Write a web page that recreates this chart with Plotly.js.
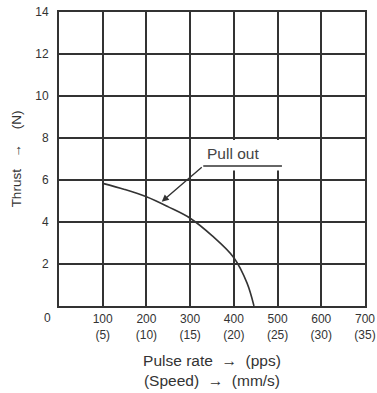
<!DOCTYPE html>
<html>
<head>
<meta charset="utf-8">
<script src="https://cdn.plot.ly/plotly-3.0.1.min.js"></script>
<style>
html,body{margin:0;padding:0;background:#fff;}
#chart{width:377px;height:393px;}
</style>
</head>
<body>
<div id="chart"></div>
<script>
// Pull-out curve: pulse rate (pps) vs thrust (N)
const pulseRate = [100, 150, 200, 250, 300, 350, 400, 430, 446];
const thrust    = [5.84, 5.55, 5.2, 4.72, 4.18, 3.35, 2.3, 1.1, 0];

const xTickVals  = [100, 200, 300, 400, 500, 600, 700];
const xTickPps   = ['100', '200', '300', '400', '500', '600', '700'];
const xTickSpeed = ['(5)', '(10)', '(15)', '(20)', '(25)', '(30)', '(35)'];
const yTickVals  = [2, 4, 6, 8, 10, 12, 14];

const curveLabel = 'Pull out';
const labelPoint = [235, 4.97];     // where the arrow touches the curve
const labelElbow = [330, 6.67];
const labelEnd   = [510, 6.67];

const ink = '#333333';
const font = 'Liberation Sans, Arial, sans-serif';
const sp = n => '\u00a0'.repeat(n);

const trace = {
  x: pulseRate, y: thrust, mode: 'lines', type: 'scatter',
  line: {color: ink, width: 1.6, shape: 'spline', smoothing: 1},
  hoverinfo: 'skip', showlegend: false
};

const layout = {
  width: 377, height: 393,
  margin: {l: 59, r: 12, t: 12, b: 87},
  paper_bgcolor: '#fff', plot_bgcolor: '#fff',
  font: {family: font, color: '#333', size: 12},
  xaxis: {
    range: [0, 700], tickvals: xTickVals,
    ticktext: xTickVals.map((v, i) => xTickPps[i] + '<br>' + xTickSpeed[i]),
    showgrid: true, gridcolor: ink, gridwidth: 2,
    showline: true, linecolor: ink, linewidth: 2, mirror: true,
    zeroline: false, ticks: '', ticklabelstandoff: 1,
    tickfont: {size: 12, color: '#333'},
    title: {text: 'Pulse rate ' + sp(1) + '\u2192' + sp(2) + '(pps)<br>(Speed) ' + sp(1) + '\u2192' + sp(2) + '(mm/s)',
            font: {size: 15.5, color: '#333'}, standoff: 14}
  },
  yaxis: {
    range: [0, 14], tickvals: yTickVals,
    showgrid: true, gridcolor: ink, gridwidth: 2,
    showline: true, linecolor: ink, linewidth: 2, mirror: true,
    zeroline: false, ticks: '', ticklabelstandoff: 6,
    tickfont: {size: 12, color: '#333'},
    title: {text: 'Thrust' + sp(3) + '\u2192' + sp(4) + '(N)', font: {size: 13.5, color: '#333'}, standoff: 11}
  },
  shapes: [
    {type: 'rect', layer: 'between', xref: 'x', yref: 'y',
     x0: 372, x1: 528, y0: 6.45, y1: 7.9, fillcolor: '#fff', line: {width: 0}},
    {type: 'line', xref: 'x', yref: 'y',
     x0: labelElbow[0], y0: labelElbow[1], x1: labelEnd[0], y1: labelEnd[1],
     line: {color: ink, width: 1.4}}
  ],
  annotations: [
    {x: labelPoint[0], y: labelPoint[1], ax: labelElbow[0], ay: labelElbow[1],
     xref: 'x', yref: 'y', axref: 'x', ayref: 'y', text: '', showarrow: true,
     arrowhead: 2, arrowsize: 1, arrowwidth: 1.4, arrowcolor: ink},
    {x: 333, y: 7.28, xref: 'x', yref: 'y', text: curveLabel, showarrow: false,
     xanchor: 'left', yanchor: 'middle', font: {size: 15.5, color: '#444'}},
    {x: 0, y: 0, xref: 'x', yref: 'y', text: '0', showarrow: false,
     xshift: -12, yshift: -12, font: {size: 12, color: '#333'}}
  ]
};

Plotly.newPlot('chart', [trace], layout, {displayModeBar: false, staticPlot: true});
</script>
</body>
</html>
